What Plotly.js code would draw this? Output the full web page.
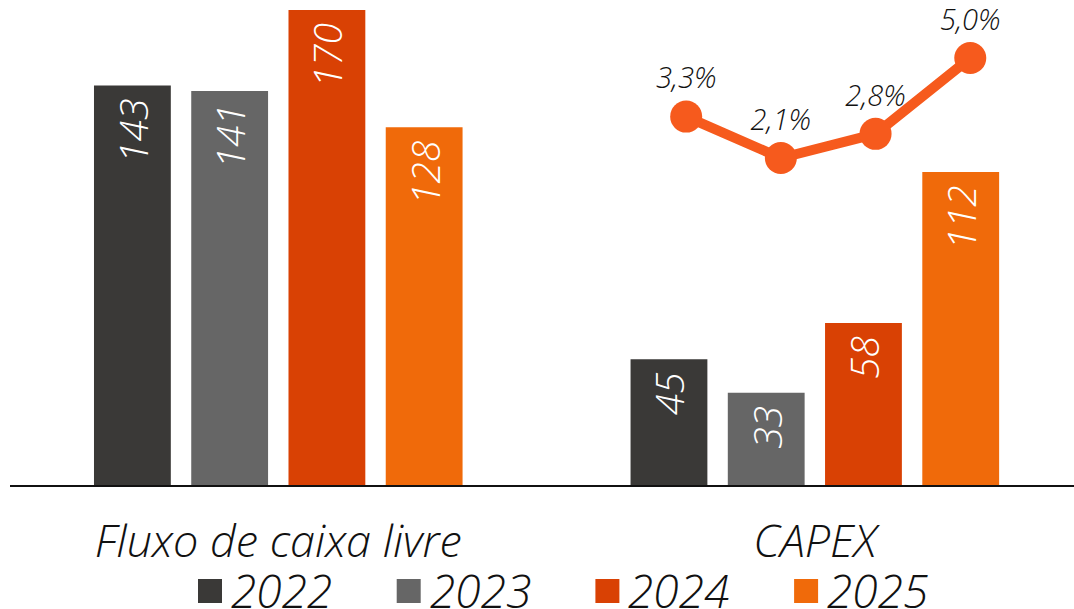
<!DOCTYPE html>
<html>
<head>
<meta charset="utf-8">
<script src="https://cdn.plot.ly/plotly-3.0.1.min.js"></script>
<style>html,body{margin:0;padding:0;background:#fff}#chart{width:1074px;height:609px}</style>
</head>
<body>
<div id="chart"></div>
<script>
var categories = ['Fluxo de caixa livre', 'CAPEX'];
var years = ['2022', '2023', '2024', '2025'];
var values2022 = [143, 45];
var values2023 = [141, 33];
var values2024 = [170, 58];
var values2025 = [128, 112];
var capexPct = [3.3, 2.1, 2.8, 5.0];
var capexPctLabels = ['3,3%', '2,1%', '2,8%', '5,0%'];
var barColors = ['#3a3937', '#666666', '#d94104', '#f06a0a'];
var lineColor = '#f65a1d';

var FONT = '"Open Sans", "Noto Sans", sans-serif';
var seriesValues = [values2022, values2023, values2024, values2025];

var traces = years.map(function (yr, i) {
  return {
    type: 'bar', name: yr, x: categories, y: seriesValues[i],
    marker: {color: barColors[i]},
    texttemplate: '%{y}\u00a0', textposition: 'inside', insidetextanchor: 'end',
    textangle: -90, constraintext: 'none',
    textfont: {family: FONT, size: 39, color: '#ffffff', style: 'italic', weight: 300},
    showlegend: false, hoverinfo: 'skip'
  };
});

traces.push({
  type: 'scatter', mode: 'lines+markers+text', x: years, y: capexPct,
  xaxis: 'x2', yaxis: 'y2',
  line: {color: lineColor, width: 10}, marker: {color: lineColor, size: 32},
  text: capexPctLabels, textposition: 'top center',
  textfont: {family: FONT, size: 29, color: '#111111', style: 'italic', weight: 300},
  cliponaxis: false, showlegend: false, hoverinfo: 'skip'
});

// custom legend built from series names and colours
var shapes = [], annotations = [];
var legStart = 198, legStep = 198.7, plotL = 10, plotW = 1064, plotB = 485, plotH = 475;
years.forEach(function (yr, i) {
  var x0 = legStart + i * legStep;
  shapes.push({type: 'rect', xref: 'paper', yref: 'paper',
    x0: (x0 - plotL) / plotW, x1: (x0 + 24 - plotL) / plotW,
    y0: -(603 - plotB) / plotH, y1: -(579 - plotB) / plotH,
    fillcolor: barColors[i], line: {width: 0}});
  annotations.push({xref: 'paper', yref: 'paper', x: (x0 + 31 - plotL) / plotW, y: -(590 - plotB) / plotH,
    xanchor: 'left', yanchor: 'middle', text: yr, showarrow: false,
    font: {family: FONT, size: 46, color: '#111111', style: 'italic', weight: 300}});
});

var layout = {
  width: 1074, height: 609,
  margin: {l: 10, r: 0, t: 10, b: 124},
  paper_bgcolor: '#ffffff', plot_bgcolor: 'rgba(0,0,0,0)',
  barmode: 'group', bargap: 0.275, bargroupgap: 0.21,
  showlegend: false,
  xaxis: {type: 'category', range: [-0.5, 1.483], showgrid: false, zeroline: false,
    showline: true, linecolor: '#111111', linewidth: 2, ticks: '', ticklabelstandoff: 16,
    tickfont: {family: FONT, size: 45, color: '#111111', style: 'italic', weight: 300}},
  yaxis: {range: [0, 170], visible: false, showgrid: false, zeroline: false},
  xaxis2: {type: 'category', domain: [0.591, 0.947], anchor: 'y2', range: [-0.5, 3.5], visible: false},
  yaxis2: {domain: [0, 1], anchor: 'x2', range: [-7.384, 6.392], visible: false},
  shapes: shapes, annotations: annotations
};

Plotly.newPlot('chart', traces, layout, {displayModeBar: false, staticPlot: true});
</script>
</body>
</html>
